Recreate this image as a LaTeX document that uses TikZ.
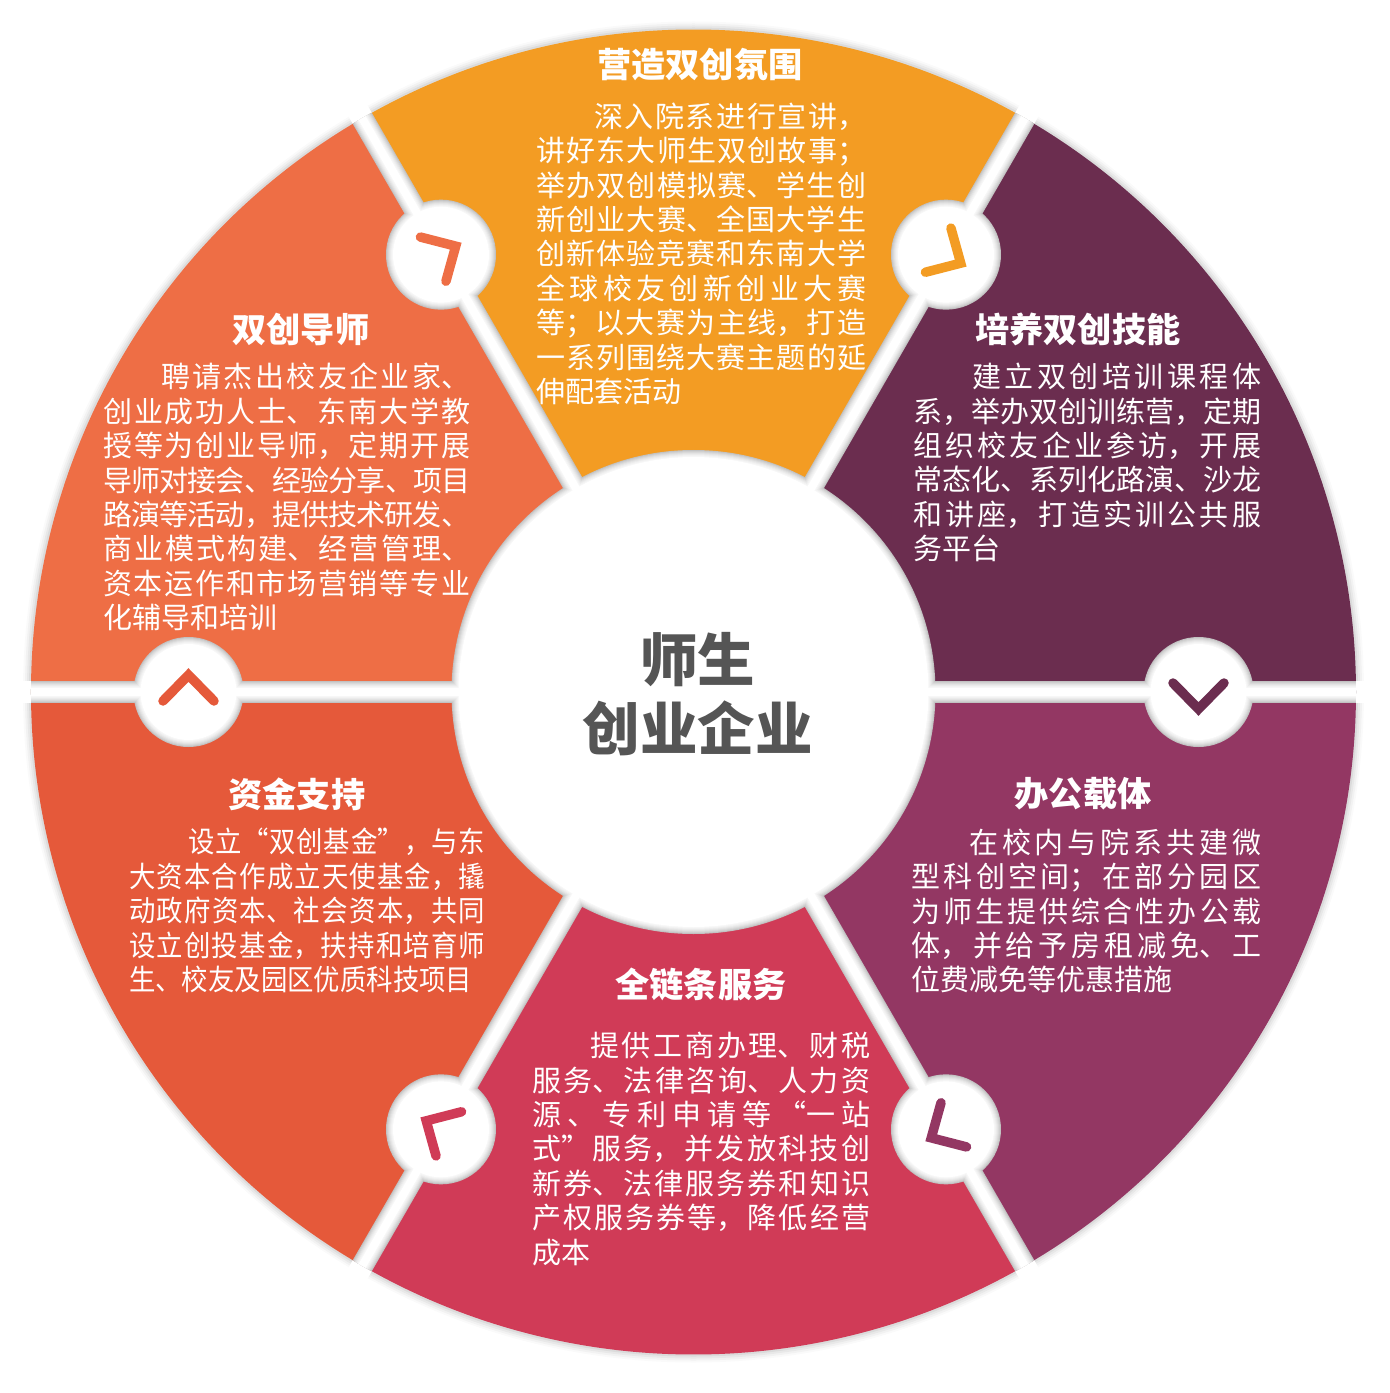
\documentclass[tikz,border=0pt]{standalone}
\usepackage{fontspec}
\usepackage{tikz}
\usetikzlibrary{positioning}
\setmainfont{Noto Sans CJK SC}
\newfontfamily\cjk{Noto Sans CJK SC}
\newfontfamily\cjknarrow[FakeStretch=0.91]{Noto Sans CJK SC}
\XeTeXlinebreaklocale "zh"
\XeTeXlinebreakskip=0pt plus 6pt minus 1.5pt
\tolerance=10000
\hbadness=10000
\newcommand{\gluehere}{\hskip 0pt plus 6pt}
\definecolor{amberseg}{HTML}{F39C23}
\definecolor{plumseg}{HTML}{6B2D4F}
\definecolor{purpleseg}{HTML}{933763}
\definecolor{crimsonseg}{HTML}{D03B57}
\definecolor{redseg}{HTML}{E5593A}
\definecolor{coralseg}{HTML}{EE6E45}
\definecolor{hubgray}{HTML}{555555}

\begin{document}
\begin{tikzpicture}[
    x=1pt, y=1pt,
    heading/.style={inner sep=0pt, text=white, font=\cjk\bfseries\fontsize{34.2}{40}\selectfont},
    body/.style={anchor=north west, inner sep=0pt, text=white, align=justify, font=\cjk\fontsize{29}{34.4}\selectfont},
    chevron/.style={line width=9.5pt, line cap=round, miter limit=10}
]
\useasboundingbox (-693.5,-701) rectangle (696.5,692);

% Ring
\foreach \off/\shade in {8/2,6/5,4/9,2/14}
    \fill [black!\shade] (0,0) circle ({662.5+\off});
\foreach \ang in {0,60,120}
    \draw [white, line width=22pt] (\ang:700) -- (\ang+180:700);
\foreach \from/\col in {0/plumseg,60/amberseg,120/coralseg,180/redseg,240/crimsonseg,300/purpleseg}
    \fill [\col] (0,0) -- (\from:662.5) arc ({\from}:{\from+60}:662.5) -- cycle;

% Gaps and circles
\begin{scope}
\clip (0,0) circle (662.5);
\foreach \off/\shade in {0/24,1/19,2/15,3/11,4/8,5/5,6/3,7/0} {
    \foreach \ang in {0,60,120}
        \draw [black!\shade, line width={22pt-2pt*\off}] (\ang:700) -- (\ang+180:700);
    \foreach \ang in {0,60,120,180,240,300}
        \fill [black!\shade] (\ang:505) circle ({55-\off});
    \fill [black!\shade] (0,0) circle ({242-\off});
}
\end{scope}

% Chevrons
\foreach \ang/\col in {30/coralseg,-30/amberseg,-90/plumseg,-150/purpleseg,150/crimsonseg,90/redseg}
    \draw [chevron, \col, shift={(\ang+90:505)}, rotate=\ang+90]
        (-25.5,9) -- (0,-17) -- (25.5,9);

% Nodes
\node (hubtext) [inner sep=0pt, align=center, text=hubgray, font=\cjk\bfseries\fontsize{57.5}{69}\selectfont] at (4.5,-2) {师生\\创业企业};

\node (amberhead) [heading] at (6.5,627) {营造双创氛围};
\node (amberbody) [body, text width=330pt] at (-157.5,589.5) {\hspace*{58pt}深入院系进行宣讲，\linebreak
讲好东大师生双创故事；\linebreak
举办双创模拟赛、学生创\linebreak
新创业大赛、全国大学生\linebreak
创新体验竞赛和东南大学\linebreak
全球校友创新创业大赛\linebreak
等；以大赛为主线，打造\linebreak
一系列围绕大赛主题的延\linebreak
伸配套活动};

\node (coralhead) [heading] at (-392.5,363) {双创导师};
\node (coralbody) [body, text width=367pt] at (-590.5,329) {\hspace*{58pt}聘请杰出校友企业家、\linebreak
创业成功人士、东南大学教\linebreak
授等为创业导师，定期开展\linebreak
导师对接会、经验分享、项目\linebreak
路演等活动，提供技术研发、\linebreak
商业模式构建、经营管理、\linebreak
资本运作和市场营销等专业\linebreak
化辅导和培训};

\node (plumhead) [heading] at (384.5,363) {培养双创技能};
\node (plumbody) [body, text width=348pt] at (219.5,329) {\hspace*{59pt}建立双创培训课程体\linebreak
系，举办双创训练营，定期\linebreak
组织校友企业参访，开展\linebreak
常态化、系列化路演、沙龙\linebreak
和讲座，打造实训公共服\linebreak
务平台};

\node (purplehead) [heading] at (389.5,-102) {办公载体};
\node (purplebody) [body, text width=350pt] at (217.5,-136.5) {\hspace*{58pt}在校内与院系共建微\linebreak
型科创空间；在部分园区\linebreak
为师生提供综合性办公载\linebreak
体，并给予房租减免、工\linebreak
位费减免等优惠措施};

\node (crimsonhead) [heading] at (7.5,-292) {全链条服务};
\node (crimsonbody) [body, text width=338pt] at (-161.5,-340) {\hspace*{58pt}提供工商办理、财税\linebreak
服务、法律咨询、人力资\linebreak
源\gluehere{}、专利申请等“一站\linebreak
式”服务，并发放科技创\linebreak
新券、法律服务券和知识\linebreak
产权服务券等，降低经营\linebreak
成本};

\node (redhead) [heading] at (-396.5,-102) {资金支持};
\node (redbody) [body, text width=356pt, font=\cjknarrow\fontsize{29}{34.4}\selectfont] at (-564.5,-136) {\hspace*{59pt}设立“双创基金”，与东\linebreak
大资本合作成立天使基金，撬\linebreak
动政府资本、社会资本，共同\linebreak
设立创投基金，扶持和培育师\linebreak
生、校友及园区优质科技项目};

\end{tikzpicture}
\end{document}
